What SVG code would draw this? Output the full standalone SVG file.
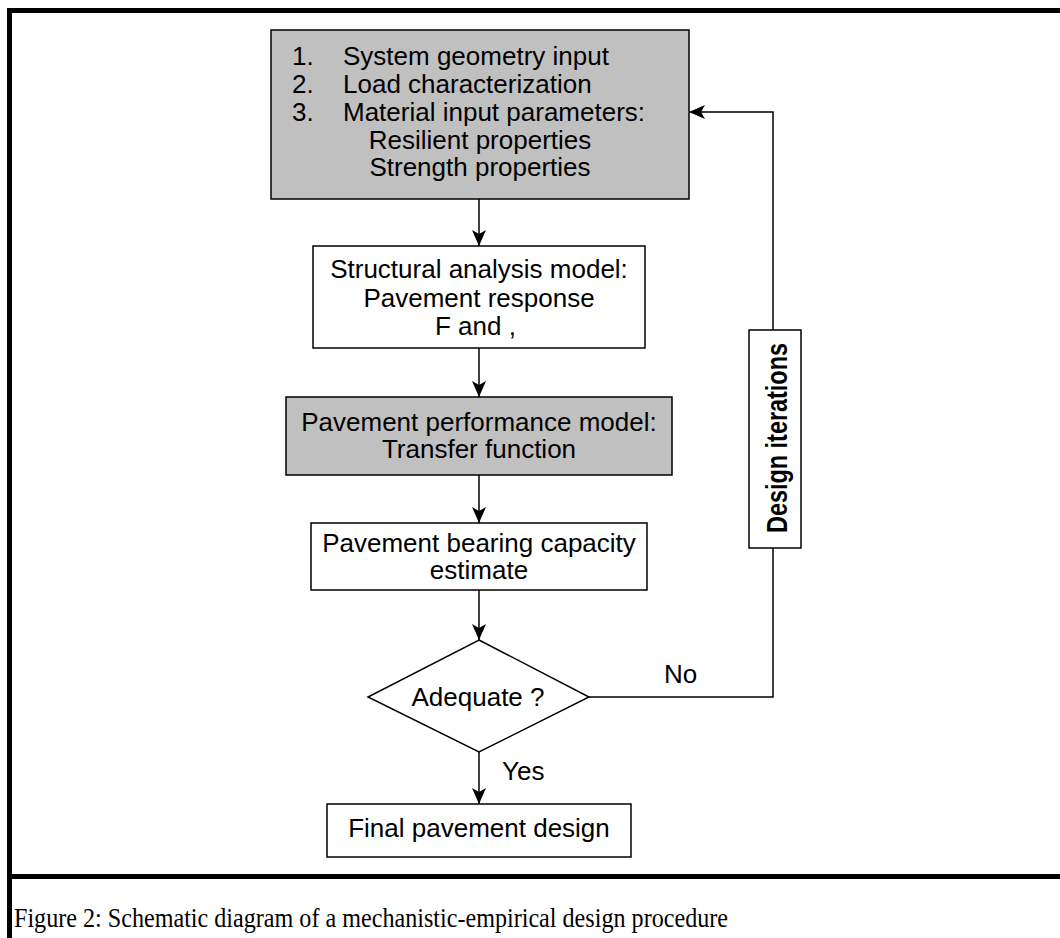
<svg xmlns="http://www.w3.org/2000/svg" width="1060" height="938" viewBox="0 0 1060 938">
<style>
.box{stroke:#000;stroke-width:1.5}
.gray{fill:#c0c0c0}
.white{fill:#fff}
.t{font-family:"Liberation Sans",Arial,sans-serif;font-size:26px;fill:#000}
.c{text-anchor:middle}
.conn{fill:none;stroke:#000;stroke-width:1.5}
.frame{fill:#000}
</style>
<defs>
<marker id="ah" viewBox="0 0 16 16" refX="16" refY="8" markerWidth="16" markerHeight="16" orient="auto" markerUnits="userSpaceOnUse">
<path d="M0,1 L16,8 L0,15 L4,8 z" fill="#000"/>
</marker>
</defs>
<rect width="1060" height="938" fill="#fff"/>
<g id="frame">
<rect class="frame" x="7" y="8" width="1053" height="5"/>
<rect class="frame" x="7" y="8" width="5" height="930"/>
<rect class="frame" x="7" y="874" width="1053" height="5"/>
</g>
<g id="connectors">
<line class="conn" x1="479" y1="199" x2="479" y2="246" marker-end="url(#ah)"/>
<line class="conn" x1="479" y1="348" x2="479" y2="397" marker-end="url(#ah)"/>
<line class="conn" x1="479" y1="475" x2="479" y2="523" marker-end="url(#ah)"/>
<line class="conn" x1="479" y1="590" x2="479" y2="640" marker-end="url(#ah)"/>
<line class="conn" x1="479" y1="752" x2="479" y2="804" marker-end="url(#ah)"/>
<polyline class="conn" points="589,697 773,697 773,548"/>
<polyline class="conn" points="773,330 773,112 689,112" marker-end="url(#ah)"/>
<text class="t" x="664" y="683">No</text>
<text class="t" x="502" y="780">Yes</text>
</g>
<g id="node-inputs">
<rect class="box gray" x="271" y="30" width="418" height="169"/>
<text class="t" x="292" y="65">1.</text>
<text class="t" x="343" y="65">System geometry input</text>
<text class="t" x="292" y="93">2.</text>
<text class="t" x="343" y="93">Load characterization</text>
<text class="t" x="292" y="121">3.</text>
<text class="t" x="343" y="121">Material input parameters:</text>
<text class="t c" x="480" y="149">Resilient properties</text>
<text class="t c" x="480" y="176">Strength properties</text>
</g>
<g id="node-structural">
<rect class="box white" x="313" y="246" width="332" height="102"/>
<text class="t c" x="479" y="278">Structural analysis model:</text>
<text class="t c" x="479" y="307">Pavement response</text>
<text class="t" x="435" y="335">F and ,</text>
</g>
<g id="node-performance">
<rect class="box gray" x="286" y="397" width="386" height="78"/>
<text class="t c" x="479" y="431">Pavement performance model:</text>
<text class="t c" x="479" y="458">Transfer function</text>
</g>
<g id="node-bearing">
<rect class="box white" x="311" y="523" width="336" height="67"/>
<text class="t c" x="479" y="552">Pavement bearing capacity</text>
<text class="t c" x="479" y="579">estimate</text>
</g>
<g id="node-adequate">
<polygon class="box white" points="479,640 589,697 479,752 368,697"/>
<text class="t c" x="478" y="706">Adequate ?</text>
</g>
<g id="node-final">
<rect class="box white" x="327" y="804" width="304" height="53"/>
<text class="t c" x="479" y="837">Final pavement design</text>
</g>
<g id="node-iterations">
<rect class="box white" x="749" y="330" width="52" height="218"/>
<text class="t c" transform="translate(787,438) rotate(-90)" style="font-weight:bold;font-size:29px" textLength="190" lengthAdjust="spacingAndGlyphs">Design iterations</text>
</g>
<g id="caption">
<text x="14" y="927" textLength="714" lengthAdjust="spacingAndGlyphs" style="font-family:'Liberation Serif','Times New Roman',serif;font-size:28px;fill:#000">Figure 2: Schematic diagram of a mechanistic-empirical design procedure</text>
</g>
</svg>
